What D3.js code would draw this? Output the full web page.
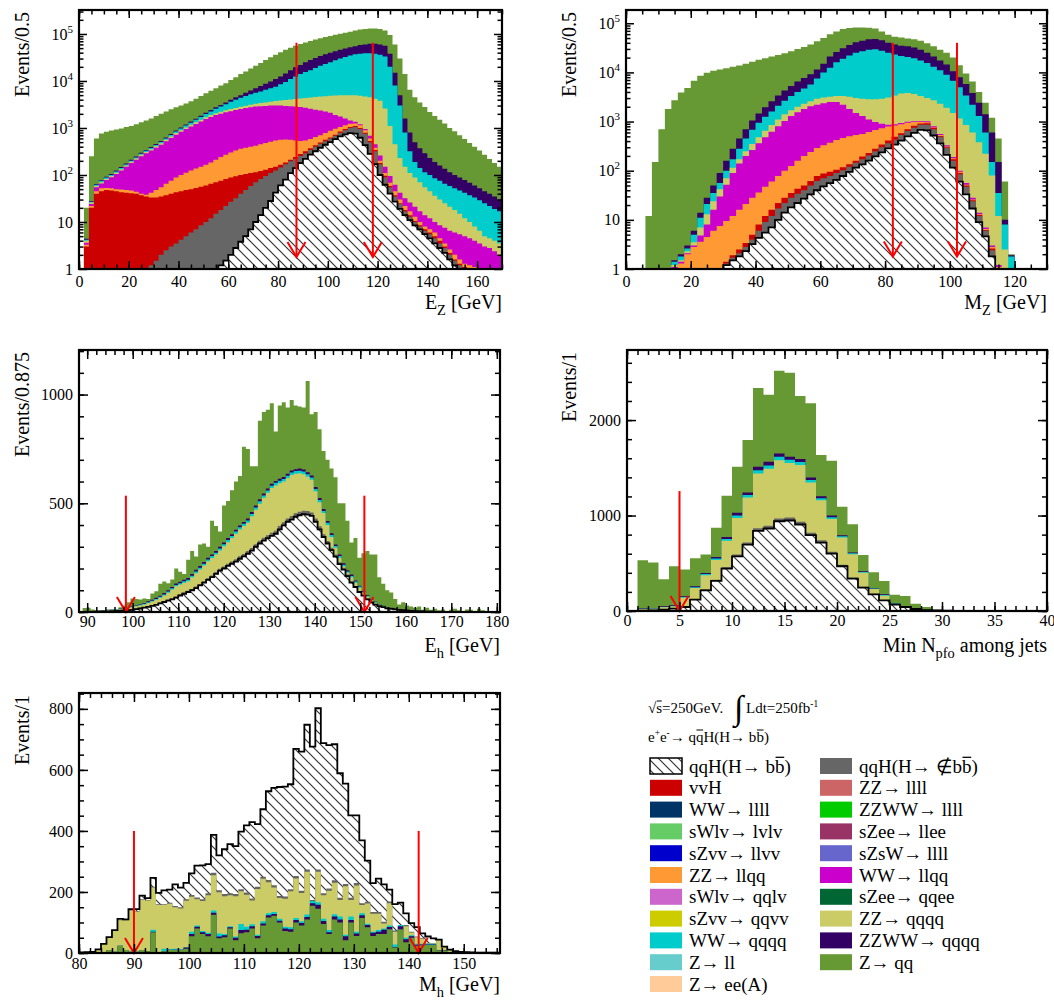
<!DOCTYPE html>
<html><head><meta charset="utf-8">
<script src="https://cdn.jsdelivr.net/npm/d3@7"></script>
<style>
body{margin:0;background:#fff}
svg text{font-family:"Liberation Serif","Times New Roman",serif;}
</style>
</head><body>
<svg id="c" width="1054" height="1000"></svg>
<script>
// ---------------- colours of the processes ----------------
const COL = {
  sig:"#ffffff", other:"#666666", vvH:"#cc0000", zz4l:"#cc6666", ww4l:"#003366", zzww4l:"#00cc00",
  swlvlvlv:"#66cc66", szeellee:"#993366", szvvllvv:"#0000cc", szsw4l:"#6666cc", zzllqq:"#ff9933",
  wwllqq:"#cc00cc", swlvqqlv:"#cc66cc", szeeqqee:"#006633", szvvqqvv:"#cccc00", zzqqqq:"#cccc66",
  wwqqqq:"#00cccc", zzwwqqqq:"#330066", zll:"#66cccc", zqq:"#669933", zeeA:"#ffcc99"
};

// ---------------- E_Z (stacked totals, 2 GeV bins from 0) ----------------
const ezBinStart = 0, ezBinWidth = 2;
const ezSignal = [0,0,0,0,0,0,0,0,0,0, 0,0,0,0,0,0,0,0,0,0, 0,0,0,0,0,0,0,0,
  1.2,1.5,2,2.8,3.8,5,7,10,14,20,28,42,60,80,110,140,180,220,270,320,380,440,500,580,660,730,780,760,620,430,280,170,100,62,40,27,19,14,11,8.5,7,5.5,4.5,3.5,2.8,2.2,1.6,1.2,
  0,0,0,0,0,0,0,0,0];
const ezOtherH = [0,0,0,0,0,0,0,0,0,0,0,0,0,
  1,1.2,1.5,2,2.5,3,3.5,4.2,5,6,7,8.5,10,12,15,18,22,27,32,40,48,58,70,82,95,110,125,145,170,195,220,255,290,340,400,460,520,600,680,790,900,1000,1050,950,750,500,320,170,90,55,35,24,17,13,10,8,6.5,5.5,4.5,3.5,2.8,2,1.5,1.2,
  0,0,0,0,0,0,0,0];
const ezVvH = [0,3,20,40,45,48,47,45,43,42, 41,40,37,35,33,33,35,37,40,43, 45,48,50,53,56,60,65,70,75,82, 88,94,100,105,110,115,122,130,140,150, 165,185,210,240,280,320,370,430,490,560, 630,720,840,950,1050,1100,1000,790,530,340, 180,96,58,37,25,18,14,10.5,8.5,7, 6,5,4,3,2.2,1.6,1.3,1.1,1,0, 0,0,0,0,0];
const ezZZllqq = [0,3.3,22,45,52,53,52,50,49,48, 47,44,40,38,42,48,55,65,75,88, 100,112,125,138,150,165,185,210,240,270, 300,330,360,380,400,420,450,480,510,540, 560,570,560,540,530,540,580,640,700,780, 870,960,1050,1150,1230,1250,1150,900,600,380, 200,110,68,45,30,22,17,13,10,8, 7,6,4.5,3.5,2.6,2,1.6,1.3,1.2,1.1, 1,1,0,0,0];
const ezWWllqq = [0,3.6,24,55,66,78,90,105,125,150, 180,210,250,290,330,380,440,520,610,720, 830,950,1080,1220,1380,1550,1720,1880,2020,2150, 2280,2400,2520,2650,2750,2850,2900,2950,3000,3000, 3000,2950,2900,2850,2800,2700,2550,2450,2350,2250, 2100,1900,1750,1600,1450,1350,1200,950,680,450, 260,150,95,62,42,32,26,21,17,14, 12,10,8.5,7.5,6.5,6,5.5,5,4.5,4, 3.5,3,2.8,2.4,2];
const ezZZqqqq = [0,4,26,58,70,82,95,112,133,160, 192,225,268,310,355,410,475,560,660,780, 900,1030,1170,1330,1500,1690,1880,2060,2220,2370, 2520,2670,2820,2980,3120,3260,3380,3500,3620,3740, 3850,3950,4050,4150,4250,4350,4450,4550,4650,4750, 4850,4900,4950,5000,5000,4950,4850,4700,4500,4200, 3800,2600,1100,450,230,150,110,88,70,55, 45,36,30,25,21,18,15,12,10,8, 6.5,5,4.5,4,3.5];
const ezWWqqqq = [0,4.2,27,62,75,88,100,118,140,168, 200,236,282,326,375,435,505,600,710,840, 980,1130,1300,1500,1720,1980,2250,2550,2850,3200, 3600,4000,4400,4800,5200,5600,6000,6500,7000,7500, 8500,9500,11000,12500,14000,15500,17000,19000,21000,23000, 25000,27500,30000,32500,35000,37000,38000,39000,39000,38000, 36000,33000,20000,8000,3000,800,320,190,140,115, 100,85,75,65,58,52,47,42,37,33, 29,25,22,19,17];
const ezZZWWqqqq = [0,4.4,28,64,78,92,105,124,147,176, 210,248,296,342,394,456,530,630,745,880, 1030,1190,1370,1580,1820,2100,2400,2750,3100,3500, 4000,4500,5000,5600,6300,7000,7800,8700,9700,11000, 12500,14500,17000,19500,22000,25000,28000,31000,34000,37000, 40000,43000,46000,49000,52000,55000,58000,60000,62000,62000, 60000,56000,38000,15000,5000,1600,800,500,370,290, 230,190,160,135,115,100,88,78,68,60, 52,45,40,35,30];
const ezZqq = [0,20,250,600,760,830,880,930,980,1050, 1100,1200,1320,1450,1600,1800,2000,2250,2500,2750, 3000,3300,3700,4200,4800,5500,6200,7000,8000,9000, 10500,12000,14000,16000,18500,21000,24000,28000,32000,36000, 41000,46000,51000,56000,61000,66000,71000,76000,81000,86000, 91000,96000,101000,106000,112000,118000,124000,128000,130000,130000, 127000,118000,95000,60000,30000,14000,6500,4500,3500,2800, 2200,1800,1500,1250,1000,850,700,580,480,400, 330,270,220,180,150];
const ezCuts = [87.4, 118.1];

// ---------------- M_Z (stacked totals, 2 GeV bins from 0) ----------------
const mzBinStart = 0, mzBinWidth = 2;
const mzSignal = [0,0,0,0,0,0,0,0,0,0,0,0,0,0,0, 1.2,1.5,1.8,2.3,3.2,4.3,5.5,7,10,14, 18,22,27,33,40,48,56,65,78,95, 115,135,160,195,235,285,340,410,500,590, 680,660,520,360,210,115,60,33,17,9, 4.6,1.8, 0,0,0,0,0,0,0,0];
const mzOtherH = [0,0,0,0,0,0,0,0,0,0,0,0,0,0,0, 1.3,1.7,2.1,2.8,4,6,9,12,17,22, 28,34,40,50,62,70,78,90,102,120, 145,170,205,250,300,360,430,530,640,750, 860,860,700,490,290,160,85,47,24,12, 6,2.4, 0,0,0,0,0,0,0,0];
const mzVvH = [0,0,0,0,0,0,0,0,0,0,0,0,0,0,0, 1.4,1.9,2.5,3.4,5,8,12,16,22,28, 35,43,50,62,78,88,95,105,118,135, 160,195,230,280,340,410,490,580,700,820, 910,920,740,510,300,170,90,50,25,12.5, 6.2,2.6, 0,0,0,0,0,0,0,0];
const mzZZllqq = [0,0,0,0,0,0,0, 1.0,1.3,2,2.8,3.6,4.5,6,7.5,9.5,12, 16,21,28,36,47,60,78,100,125,160, 200,240,290,330,370,420,460,500,530,560, 610,670,730,790,830,880,940,980,990,970, 760,530,310,180,95,52,26,13,6.5,2.8, 1.1, 0,0,0,0,0,0,0];
const mzWWllqq = [0,0,0,0,0,0,0, 1.1,1.4,2.1,3,4.8,8,16,30,52,90, 140,200,265,360,480,620,800,1030,1300,1550, 1800,2050,2200,2350,2500,2500,2200,1800,1500,1300, 1100,980,900,860,880,930,990,1020,1030,1010, 800,560,330,190,100,56,28,14,7,3, 1.2, 0,0,0,0,0,0,0];
const mzZZqqqq = [0,0,0,0,0,0,0, 1.2,1.5,2.3,3.5,7,13,24,42,70,115, 170,250,350,480,650,850,1100,1400,1700,2000, 2300,2600,2900,3100,3200,3300,3300,3200,3000,2900, 2850,2850,2900,3100,3400,3700,3800,3650,3300,3000, 2700,2300,1900,1500,1150,850,600,380,220,80, 12,2.5, 0,0,0,0,0,0];
const mzWWqqqq = [0,0,0,0,0,0,0, 1.4,1.8,2.6,5,11,21,35,56,100,170, 280,450,680,950,1250,1600,2100,2650,3300,4000, 4700,5700,7500,10000,12500,16000,19000,22000,25000,27000, 29000,29500,27500,25000,23000,21500,20500,19500,17500,15500, 13000,11000,9000,6800,5000,3400,2200,1300,600,150, 35,8,1.8, 0,0,0,0,0];
const mzZZWWqqqq = [0,0,0,0,0,0,0, 1.5,2,3,6,14,28,50,90,160,280, 450,700,1050,1450,1950,2600,3400,4300,5300,6500, 7700,9200,11500,15000,21000,26000,31000,36000,41000,44000, 47000,48000,45000,40000,37000,35000,34000,32000,29000,25000, 21000,17500,14500,10500,8000,5800,3800,2400,1400,600, 150,10,1.9, 0,0,0,0,0];
const mzZqq = [0,0,0,12,150,700,1800,2700,3900,4800, 6800,8500,9800,10800,11500,12200,13000,13800,15000,16500, 18000,19500,21000,22500,24500,27000,30000,33000,37000,43000, 50000,60000,68000,76000,80000,82000,82000,81000,78000,68000, 58000,53000,51000,49000,47000,44000,39000,34000,29000,25000, 20000,14000,9500,6500,4000,2400,1200,450,60,2, 0,0,0,0,0];
const mzCuts = [82.4, 102.2];

// ---------------- E_h (stacked totals, 0.875 GeV bins from 88.125) ----------------
const ehBinStart = 88.125, ehBinWidth = 0.875;
const ehSignal = [0,0,1,1,2,2,3,3,4,5, 6,7,9,10,13,16,20,24,28,33, 40,46,52,58,66,76,84,92,100,110, 122,135,148,160,175,190,200,212,222,232, 245,256,268,282,300,315,328,340,350,360, 380,398,415,425,438,445,450,448,442,415, 380,345,315,285,255,220,195,165,135,115, 92,75,58,44,34,27,22,17,14,12, 10,8,6,5,4,3,3,2,2,1, 1,1,1,0,0,0,0,0,0,0, 0,0,0,0,0];
const ehOtherH = [0,0,2,2,3,3,4,4,5,6, 7,9,11,12,15,19,23,27,32,37, 44,50,57,63,71,81,90,98,106,117, 129,142,156,168,184,199,209,222,232,243, 256,267,280,294,312,328,341,353,364,374, 395,413,430,441,454,461,466,464,458,430, 394,358,327,296,265,229,203,172,141,120, 97,79,62,47,37,29,24,19,15,13, 11,9,7,6,5,4,3,3,2,2, 1,1,1,0,0,0,0,0,0,0, 0,0,0,0,0];
const ehZZqqqq = [1,2,3,4,5,6,7,8,10,12, 14,16,19,22,26,30,35,41,48,56, 65,76,88,103,118,126,134,141,160,178, 195,214,233,248,264,283,302,321,340,360, 380,395,410,440,470,498,525,548,570,582, 592,600,615,630,636,638,634,622,608,555, 505,455,400,345,295,250,210,180,160,135, 112,90,70,54,42,33,26,21,17,14, 12,10,8,7,6,5,4,4,3,3, 2,2,2,1,1,0,0,0,0,0, 0,0,0,0,0];
const ehWWqqqq = [1,2,3,4,5,6,8,9,11,13, 15,18,21,24,28,33,38,45,52,60, 70,81,94,109,124,132,141,148,167,186, 203,222,241,257,273,292,312,331,350,370, 390,406,421,451,481,509,536,559,581,594, 604,612,627,642,648,650,646,634,619,566, 515,465,410,354,303,258,217,186,166,140, 117,94,74,57,45,35,28,22,18,15, 13,11,9,8,7,6,5,4,3,3, 2,2,2,1,1,0,0,0,0,0, 0,0,0,0,0];
const ehZZWWqqqq = [1,2,3,4,5,7,9,10,12,14, 16,19,23,26,30,36,41,49,56,65, 75,87,100,115,131,139,148,156,175,194, 211,230,249,265,281,300,320,340,358,378, 398,414,430,460,490,518,545,568,590,603, 613,621,636,651,657,660,655,643,628,575, 524,474,418,362,310,265,224,192,172,145, 121,98,77,60,47,37,29,23,19,16, 14,12,10,9,8,7,6,5,4,3, 2,2,2,1,1,0,0,0,0,0, 0,0,0,0,0];
const ehZqq = [2,18,20,12,8,7,9,10,12,14, 22,30,45,62,60,58,62,60,85,95, 130,140,132,150,200,185,175,240,280,255, 310,315,300,420,395,370,490,510,560,600, 625,760,750,670,670,880,920,930,960,830, 950,965,940,975,950,945,940,1062,910,920, 840,740,700,660,620,500,500,420,320,340, 250,270,280,265,265,160,130,100,90,60, 35,45,30,25,20,25,10,20,10,15, 8,12,5,10,15,8,5,12,10,5, 15,8,5,5,3];
const ehCuts = [98.5, 150.9];

// ---------------- Min N_pfo (stacked totals, bins of 1 from 0) ----------------
const npBinStart = 0, npBinWidth = 1;
const npSignal = [0,3,7,14,24,42,119,217,315,444, 573,696,839,864,940,948,906,794,717,601, 469,339,245,175,112,66,42,21,10,5, 3,2,1,1,0,0,0,0,0,0];
const npOtherH = [0,4,9,17,28,47,126,227,328,460, 592,718,866,892,970,980,936,820,740,620, 484,350,253,181,116,69,44,22,11,5, 3,2,1,1,0,0,0,0,0,0];
const npZZqqqq = [0,20,23,38,48,140,240,375,535,735, 975,1190,1440,1490,1580,1550,1530,1345,1160,965, 770,595,400,230,160,74,48,25,13,6, 4,3,2,1,0,0,0,0,0,0];
const npWWqqqq = [0,24,27,43,53,147,249,387,550,755, 1000,1215,1475,1525,1615,1585,1562,1372,1182,983, 783,604,408,236,167,78,50,26,14,7, 5,3,2,1,0,0,0,0,0,0];
const npZZWWqqqq = [0,28,31,49,59,154,259,399,566,776, 1028,1241,1510,1563,1650,1615,1591,1399,1203,1000, 794,612,416,241,175,82,52,27,15,8, 6,4,2,1,0,0,0,0,0,0];
const npZqq = [0,531,507,332,469,434,552,591,871,1206, 1510,1790,2336,2266,2517,2497,2252,2175,1633,1573, 1091,909,587,406,315,171,157,77,42,14, 10,5,3,3,2,2,1,1,1,0];
const npCuts = [5];

// ---------------- M_h (stacked totals, bins of 1 GeV from 80; signal on top) ----------------
const mhBinStart = 80, mhBinWidth = 1;
const mhZqq = [0,0,0,2,3,10,4,23,10,4, 4,10,6,68,3,6,10,10,10,14, 55,80,62,55,125,48,52,80,42,65, 68,80,48,90,116,122,100,72,70,100, 90,110,155,145,95,62,110,100,42,100, 56,115,84,56,62,62,78,18,78,35, 50,24,25,26,26,8,8,3,2,0, 0,0,0,0,0,0,0];
const mhZZWWqqqq = [0,0,0,2,3,10,4,24,10,4, 4,10,6,70,3,6,11,11,11,18, 62,86,68,62,132,54,58,84,50,75, 76,88,56,97,124,128,106,80,78,108, 98,118,163,158,105,68,120,110,55,108, 64,124,92,66,70,76,85,20,88,45, 55,27,28,28,28,9,9,3,2,0, 0,0,0,0,0,0,0];
const mhWWqqqq = [0,0,0,2,3,10,4,24,10,4, 4,10,6,76,3,14,12,14,12,19, 70,90,72,66,139,64,62,88,54,95, 86,94,60,104,130,134,112,86,84,115, 104,126,170,166,112,75,127,120,60,120, 70,130,96,70,75,80,90,28,92,50, 58,30,30,30,30,10,10,3,2,0, 0,0,0,0,0,0,0];
const mhZZqqqq = [1,2,4,10,30,52,75,107,107,139, 135,174,172,215,157,157,161,150,146,171, 184,176,170,189,255,199,186,189,186,202, 191,172,210,243,232,215,180,178,202,244, 197,266,167,266,189,204,230,174,219,174, 221,157,162,129,129,97,163,70,73,88, 67,52,46,31,31,43,20,9,5,3, 2,1,1,0,0,0,0];
const mhOtherH = [1,2,4,10,30,52,75,108,108,141, 137,176,174,217,160,160,165,154,150,176, 190,182,176,196,263,206,193,196,193,209, 198,179,217,250,239,222,187,185,209,252, 204,274,174,274,196,211,238,181,226,181, 229,163,168,134,134,102,169,74,77,92, 70,54,48,32,32,44,21,10,5,3, 2,1,1,0,0,0,0];
const mhSignal = [2,3,4,12,30,52,75,112,110,144, 144,188,180,246,197,205,208,225,214,230, 261,286,287,291,387,320,340,357,350,398, 418,429,422,471,530,541,544,545,553,669, 660,748,676,802,688,681,684,589,555,451, 451,369,303,229,244,225,208,160,165,130, 98,85,64,54,48,44,21,11,6,4, 3,2,1,1,1,1,1];
const mhCuts = [90, 141.8];

// ---------------- legend ----------------
const legendLeft = [
  {c:"hatch", t:["qqH(H→ b",{t:"b",over:true},")"]},
  {c:COL.vvH, t:["vvH"]},
  {c:COL.ww4l, t:["WW→ llll"]},
  {c:COL.swlvlvlv, t:["sWlv→ lvlv"]},
  {c:COL.szvvllvv, t:["sZvv→ llvv"]},
  {c:COL.zzllqq, t:["ZZ→ llqq"]},
  {c:COL.swlvqqlv, t:["sWlv→ qqlv"]},
  {c:COL.szvvqqvv, t:["sZvv→ qqvv"]},
  {c:COL.wwqqqq, t:["WW→ qqqq"]},
  {c:COL.zll, t:["Z→ ll"]},
  {c:COL.zeeA, t:["Z→ ee(A)"]}
];
const legendRight = [
  {c:COL.other, t:["qqH(H→ ∉b",{t:"b",over:true},")"]},
  {c:COL.zz4l, t:["ZZ→ llll"]},
  {c:COL.zzww4l, t:["ZZWW→ llll"]},
  {c:COL.szeellee, t:["sZee→ llee"]},
  {c:COL.szsw4l, t:["sZsW→ llll"]},
  {c:COL.wwllqq, t:["WW→ llqq"]},
  {c:COL.szeeqqee, t:["sZee→ qqee"]},
  {c:COL.zzqqqq, t:["ZZ→ qqqq"]},
  {c:COL.zzwwqqqq, t:["ZZWW→ qqqq"]},
  {c:COL.zqq, t:["Z→ qq"]}
];

// =====================================================================
const svg = d3.select("#c");
svg.append("rect").attr("width",1054).attr("height",1000).attr("fill","#fff");
const defs = svg.append("defs");
const pat = defs.append("pattern").attr("id","hatch").attr("patternUnits","userSpaceOnUse")
  .attr("width",10).attr("height",10);
pat.append("rect").attr("width",10).attr("height",10).attr("fill","#fff");
pat.append("path").attr("d","M0,0L10,10M-1,9L1,11M9,-1L11,1")
  .attr("stroke","#333").attr("stroke-width",1.2);

function rich(parent, x, y, segs, size, anchor){
  const t = parent.append("text").attr("x",x).attr("y",y).attr("font-size",size)
    .attr("text-anchor",anchor||"start").attr("fill","#000");
  let shift = 0; const overs = [];
  segs.forEach(s=>{
    const seg = (typeof s === "string") ? {t:s} : s;
    let target = 0, fs = size;
    if(seg.sub){ target = size*0.3; fs = size*0.72; }
    if(seg.sup){ target = -size*0.42; fs = size*0.62; }
    if(seg.fs) fs = seg.fs;
    const sp = t.append("tspan").attr("font-size",fs).text(seg.t);
    if(target !== shift){ sp.attr("dy", target-shift); shift = target; }
    if(seg.over) overs.push([sp,fs]);
  });
  overs.forEach(([sp,fs])=>{
    const n = sp.node(); const p = n.getStartPositionOfChar(0); const len = n.getComputedTextLength();
    parent.append("line").attr("x1",p.x+0.5).attr("x2",p.x+len-0.3)
      .attr("y1",p.y-fs*0.8).attr("y2",p.y-fs*0.8).attr("stroke","#000").attr("stroke-width",Math.max(1,fs/15));
  });
  return t;
}

function stepPts(data, start, width){
  const p = data.map((v,i)=>[start+i*width, v]);
  p.push([start+data.length*width, data[data.length-1]]);
  return p;
}

function logMinor(maxV){
  const out=[];
  for(let d=0; d<6; d++) for(let m=2; m<10; m++){ const v=m*Math.pow(10,d); if(v<=maxV) out.push(v); }
  return out;
}

function drawPanel(cfg){
  const w = cfg.right-cfg.left, h = cfg.bottom-cfg.top;
  const g = svg.append("g").attr("transform",`translate(${cfg.left},${cfg.top})`);
  const x = d3.scaleLinear().domain(cfg.xDomain).range([0,w]);
  const y = cfg.log ? d3.scaleLog().domain(cfg.yDomain).range([h,0]) : d3.scaleLinear().domain(cfg.yDomain).range([h,0]);
  const yv = v => cfg.log ? (v >= cfg.yDomain[0] ? y(v) : h) : y(Math.max(0,v));
  const cid = "clip"+cfg.id;
  defs.append("clipPath").attr("id",cid).append("rect").attr("width",w).attr("height",h);
  const plot = g.append("g").attr("clip-path",`url(#${cid})`);
  const area = d3.area().curve(d3.curveStepAfter).x(d=>x(d[0])).y0(h).y1(d=>yv(d[1]));
  const line = d3.line().curve(d3.curveStepAfter).x(d=>x(d[0])).y(d=>yv(d[1]));
  cfg.layers.forEach(L=>{
    const pts = stepPts(L.data, cfg.binStart, cfg.binWidth);
    plot.append("path").attr("d",area(pts)).attr("fill",L.hatch?"url(#hatch)":L.color).attr("stroke","none");
  });
  const op = stepPts(cfg.outline, cfg.binStart, cfg.binWidth);
  plot.append("path").attr("d",line(op)).attr("fill","none").attr("stroke","#000").attr("stroke-width",1.8);

  // cut arrows
  cfg.cuts.forEach(c=>{
    const xc = x(c), y1 = yv(cfg.arrowTop), y2 = cfg.log ? y(cfg.arrowTip) : y(0);
    g.append("line").attr("x1",xc).attr("x2",xc).attr("y1",y1).attr("y2",y2).attr("stroke","#ff0000").attr("stroke-width",2);
    g.append("path").attr("d",`M${xc-9},${y2-15}L${xc},${y2}L${xc+9},${y2-15}`).attr("fill","none")
      .attr("stroke","#ff0000").attr("stroke-width",2);
  });

  // axes
  const maj = cfg.log?8:9, mn = cfg.log?4.5:5;
  const axes = g.append("g");
  const fmt = d3.format("d");
  axes.append("g").attr("class","xb").attr("transform",`translate(0,${h})`)
    .call(d3.axisBottom(x).tickValues(cfg.xMajor).tickSize(-maj).tickPadding(cfg.xPad).tickFormat(fmt));
  axes.append("g").attr("transform",`translate(0,${h})`)
    .call(d3.axisBottom(x).tickValues(cfg.xMinor).tickSize(-mn).tickFormat(""));
  axes.append("g").call(d3.axisTop(x).tickValues(cfg.xMajor).tickSize(-maj).tickFormat(""));
  axes.append("g").call(d3.axisTop(x).tickValues(cfg.xMinor).tickSize(-mn).tickFormat(""));
  const yl = axes.append("g").attr("class","yl")
    .call(d3.axisLeft(y).tickValues(cfg.yMajor).tickSize(-maj).tickPadding(6).tickFormat(fmt));
  axes.append("g").call(d3.axisLeft(y).tickValues(cfg.yMinor).tickSize(-mn).tickFormat(""));
  axes.append("g").attr("transform",`translate(${w},0)`)
    .call(d3.axisRight(y).tickValues(cfg.yMajor).tickSize(-maj).tickFormat(""));
  axes.append("g").attr("transform",`translate(${w},0)`)
    .call(d3.axisRight(y).tickValues(cfg.yMinor).tickSize(-mn).tickFormat(""));
  axes.selectAll(".domain").remove();
  axes.selectAll("line").attr("stroke","#000").attr("stroke-width",1.5);
  axes.selectAll("g").attr("font-family",null).attr("font-size",null);
  axes.selectAll("text").attr("font-size",16).attr("fill","#000")
    .style("font-family",'"Liberation Serif","Times New Roman",serif');
  if(cfg.log){
    yl.selectAll(".tick text").each(function(v){
      if(v >= 100){
        const t = d3.select(this); const e = Math.round(Math.log10(v));
        t.text(""); t.append("tspan").text("10");
        t.append("tspan").attr("font-size",11).attr("dy",-7).text(e);
      }
    });
  }
  // frame
  g.append("rect").attr("width",w).attr("height",h).attr("fill","none").attr("stroke","#000").attr("stroke-width",2.2);

  // titles
  rich(g, w, cfg.xTitleY - cfg.top, cfg.xTitle, 20, "end");
  const yt = g.append("g").attr("transform",`translate(${cfg.yTitleX - cfg.left},2) rotate(-90)`);
  rich(yt, 0, 0, [cfg.yTitle], 20, "end");
}

const decades = [1,10,100,1000,10000,100000];

drawPanel({id:"ez", left:79, top:10, right:502, bottom:269, xDomain:[0,170], log:true, yDomain:[1,3.236e5],
  binStart:ezBinStart, binWidth:ezBinWidth, xPad:7,
  layers:[{data:ezZqq,color:COL.zqq},{data:ezZZWWqqqq,color:COL.zzwwqqqq},{data:ezWWqqqq,color:COL.wwqqqq},
    {data:ezZZqqqq,color:COL.zzqqqq},{data:ezWWllqq,color:COL.wwllqq},{data:ezZZllqq,color:COL.zzllqq},
    {data:ezVvH,color:COL.vvH},{data:ezOtherH,color:COL.other},{data:ezSignal,hatch:true}],
  outline:ezSignal, cuts:ezCuts, arrowTop:65000, arrowTip:1.8,
  xMajor:d3.range(0,161,20), xMinor:d3.range(0,171,5), yMajor:decades, yMinor:logMinor(3.2e5),
  xTitle:["E",{t:"Z",sub:true}," [GeV]"], xTitleY:309, yTitle:"Events/0.5", yTitleX:29});

drawPanel({id:"mz", left:626, top:10, right:1047, bottom:269, xDomain:[0,130], log:true, yDomain:[1,1.86e5],
  binStart:mzBinStart, binWidth:mzBinWidth, xPad:7,
  layers:[{data:mzZqq,color:COL.zqq},{data:mzZZWWqqqq,color:COL.zzwwqqqq},{data:mzWWqqqq,color:COL.wwqqqq},
    {data:mzZZqqqq,color:COL.zzqqqq},{data:mzWWllqq,color:COL.wwllqq},{data:mzZZllqq,color:COL.zzllqq},
    {data:mzVvH,color:COL.vvH},{data:mzOtherH,color:COL.other},{data:mzSignal,hatch:true}],
  outline:mzSignal, cuts:mzCuts, arrowTop:40000, arrowTip:1.8,
  xMajor:d3.range(0,121,20), xMinor:d3.range(0,131,5), yMajor:decades, yMinor:logMinor(1.86e5),
  xTitle:["M",{t:"Z",sub:true}," [GeV]"], xTitleY:309, yTitle:"Events/0.5", yTitleX:576});

drawPanel({id:"eh", left:79, top:350, right:500, bottom:612, xDomain:[88.2,180.7], log:false, yDomain:[0,1205],
  binStart:ehBinStart, binWidth:ehBinWidth, xPad:4,
  layers:[{data:ehZqq,color:COL.zqq},{data:ehZZWWqqqq,color:COL.zzwwqqqq},{data:ehWWqqqq,color:COL.wwqqqq},
    {data:ehZZqqqq,color:COL.zzqqqq},{data:ehOtherH,color:COL.other},{data:ehSignal,hatch:true}],
  outline:ehSignal, cuts:ehCuts, arrowTop:535,
  xMajor:d3.range(90,181,10), xMinor:d3.range(90,181,2), yMajor:[0,500,1000], yMinor:d3.range(0,1201,100),
  xTitle:["E",{t:"h",sub:true}," [GeV]"], xTitleY:652, yTitle:"Events/0.875", yTitleX:29});

drawPanel({id:"np", left:627, top:350, right:1047, bottom:611, xDomain:[0,40], log:false, yDomain:[0,2734],
  binStart:npBinStart, binWidth:npBinWidth, xPad:4,
  layers:[{data:npZqq,color:COL.zqq},{data:npZZWWqqqq,color:COL.zzwwqqqq},{data:npWWqqqq,color:COL.wwqqqq},
    {data:npZZqqqq,color:COL.zzqqqq},{data:npOtherH,color:COL.other},{data:npSignal,hatch:true}],
  outline:npSignal, cuts:npCuts, arrowTop:1256,
  xMajor:d3.range(0,41,5), xMinor:d3.range(0,41,1), yMajor:[0,1000,2000], yMinor:d3.range(0,2701,200),
  xTitle:["Min N",{t:"pfo",sub:true}," among jets"], xTitleY:652, yTitle:"Events/1", yTitleX:576});

drawPanel({id:"mh", left:79, top:693, right:500, bottom:953, xDomain:[80,156.6], log:false, yDomain:[0,852],
  binStart:mhBinStart, binWidth:mhBinWidth, xPad:5,
  layers:[{data:mhSignal,hatch:true},{data:mhOtherH,color:COL.other},{data:mhZZqqqq,color:COL.zzqqqq},
    {data:mhWWqqqq,color:COL.wwqqqq},{data:mhZZWWqqqq,color:COL.zzwwqqqq},{data:mhZqq,color:COL.zqq}],
  outline:mhSignal, cuts:mhCuts, arrowTop:400,
  xMajor:d3.range(80,151,10), xMinor:d3.range(80,157,2), yMajor:d3.range(0,801,200), yMinor:d3.range(0,851,50),
  xTitle:["M",{t:"h",sub:true}," [GeV]"], xTitleY:991, yTitle:"Events/1", yTitleX:29});

// ---------------- legend drawing ----------------
const lg = svg.append("g");
rich(lg, 648, 713, [{t:"√"},{t:"s",over:true},"=250GeV."], 15);
lg.append("text").attr("x",734).attr("y",719).attr("font-size",34).text("∫");
rich(lg, 746, 713, ["Ldt=250fb",{t:"-1",sup:true}], 15);
rich(lg, 648, 742, ["e",{t:"+",sup:true},"e",{t:"-",sup:true},"→ q",{t:"q",over:true},"H(H→ b",{t:"b",over:true},")"], 15);

function legendCol(items, sx, tx){
  items.forEach((it,i)=>{
    const cy = 766 + 21.8*i;
    if(it.c === "hatch"){
      lg.append("rect").attr("x",sx).attr("y",cy-8).attr("width",32).attr("height",16)
        .attr("fill","url(#hatch)").attr("stroke","#000").attr("stroke-width",1.5);
    } else {
      lg.append("rect").attr("x",sx).attr("y",cy-8).attr("width",32).attr("height",16).attr("fill",it.c);
    }
    rich(lg, tx, cy+6.5, it.t, 19);
  });
}
legendCol(legendLeft, 650, 689);
legendCol(legendRight, 820, 859);
</script>
</body></html>
